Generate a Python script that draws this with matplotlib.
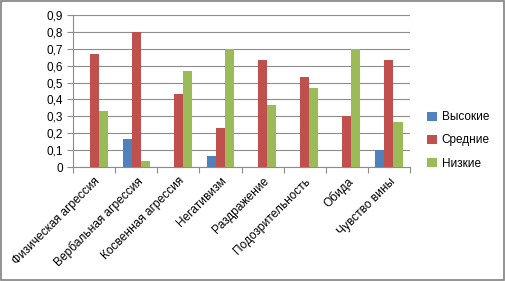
import numpy as np
import matplotlib.pyplot as plt
from matplotlib.patches import Rectangle

categories = ['Физическая агрессия', 'Вербальная агрессия', 'Косвенная агрессия',
              'Негативизм', 'Раздражение', 'Подозрительность', 'Обида', 'Чувство вины']
high = [0, 0.167, 0, 0.067, 0, 0, 0, 0.1]
mid = [0.667, 0.8, 0.433, 0.233, 0.633, 0.533, 0.3, 0.633]
low = [0.333, 0.033, 0.567, 0.7, 0.367, 0.467, 0.7, 0.267]
series_names = ['Высокие', 'Средние', 'Низкие']
yticks = [0, 0.1, 0.2, 0.3, 0.4, 0.5, 0.6, 0.7, 0.8, 0.9]

plt.rcParams['font.family'] = ['Liberation Sans', 'DejaVu Sans']

fig = plt.figure(figsize=(5.05, 2.81), dpi=100)
ax = fig.add_axes([73 / 505, 1 - 167 / 281, 337 / 505, 152 / 281])

x = np.arange(len(categories))
w = 0.215
colors = ['#4F81BD', '#C0504D', '#9BBB59']
for i, (vals, name) in enumerate(zip([high, mid, low], series_names)):
    ax.bar(x + (i - 1) * w, vals, w, color=colors[i], label=name, zorder=3)

ax.set_xlim(-0.5, len(categories) - 0.5)
ax.set_ylim(0, 0.9)
ax.set_yticks(yticks)
ax.set_yticklabels([('%.1f' % v).replace('.', ',') if v else '0' for v in yticks], fontsize=8.5)
ax.yaxis.grid(True, color='#8c8c8c', linewidth=0.8, zorder=0)
ax.tick_params(axis='y', length=4, color='#8c8c8c', pad=3)

ax.set_xticks(np.arange(len(categories) + 1) - 0.5)
ax.set_xticklabels([])
ax.set_xticks(x, minor=True)
ax.set_xticklabels(categories, minor=True, rotation=45, ha='right',
                   rotation_mode='anchor', fontsize=8.6)
ax.tick_params(axis='x', which='major', length=4, color='#8c8c8c')
ax.tick_params(axis='x', which='minor', length=0, pad=6)

for s in ['top', 'right']:
    ax.spines[s].set_visible(False)
for s in ['left', 'bottom']:
    ax.spines[s].set_color('#8c8c8c')

ax.legend(loc='center left', bbox_to_anchor=(1.02, 0.175), frameon=False,
          fontsize=8.5, handlelength=0.8, handleheight=0.8, labelspacing=0.95,
          handletextpad=0.4)

fig.patches.append(Rectangle((0.002, 0.004), 0.996, 0.992, transform=fig.transFigure,
                             fill=False, edgecolor='#808080', linewidth=1.2))

fig.savefig('out.png', dpi=100)
